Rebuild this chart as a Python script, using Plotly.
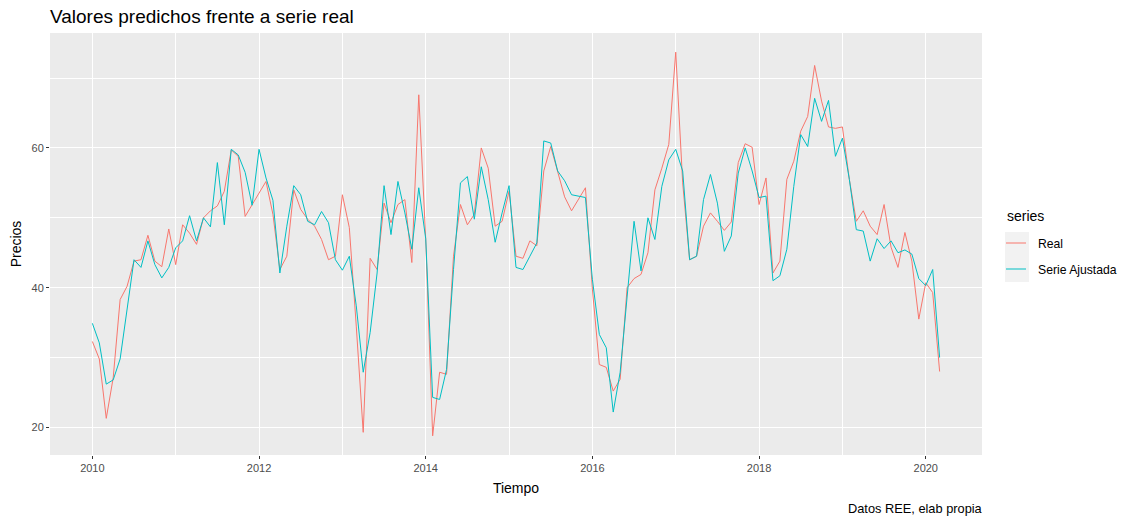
import pandas as pd
import plotly.graph_objects as go

# Serie mensual de precios (enero 2010 - marzo 2020)
fechas = pd.date_range("2010-01-01", periods=123, freq="MS")
tiempo = [f.year + (f.month - 1) / 12 for f in fechas]

real = [
    32.3, 29.8, 21.3, 27.1, 38.3, 40.2, 43.8, 44.0, 47.5, 43.8, 43.0, 48.4,
    43.3, 49.0, 47.8, 46.2, 50.0, 51.0, 51.7, 53.8, 59.7, 58.8, 50.2, 51.8,
    53.6, 55.2, 50.5, 42.6, 44.5, 54.0, 51.2, 49.8, 48.8, 46.9, 44.0, 44.5,
    53.3, 48.6, 34.5, 19.3, 44.2, 42.6, 52.1, 49.3, 51.9, 52.6, 43.6, 67.6,
    46.9, 18.8, 27.9, 27.6, 44.5, 51.9, 49.0, 50.5, 60.0, 57.1, 48.8, 49.5,
    53.8, 44.5, 44.2, 46.7, 46.0, 56.7, 60.2, 56.7, 53.0, 51.0, 52.6, 54.3,
    39.8, 29.0, 28.6, 25.2, 26.9, 40.0, 41.3, 41.9, 45.0, 54.0, 57.1, 60.5,
    73.7, 55.0, 44.0, 44.5, 48.8, 50.7, 49.5, 48.2, 49.4, 57.9, 60.6, 60.1,
    51.9, 55.7, 42.1, 43.8, 55.5, 58.1, 62.4, 64.5, 71.8, 66.7, 63.0, 62.8,
    63.0, 55.5, 49.5, 51.0, 48.8, 47.6, 51.9, 45.8, 42.9, 47.9, 43.8, 35.5,
    40.7, 39.3, 28.0,
]

ajustada = [
    34.9, 32.1, 26.2, 26.8, 29.8, 36.7, 44.0, 42.9, 46.7, 43.3, 41.4, 42.9,
    45.7, 46.7, 50.3, 46.7, 50.0, 48.7, 57.9, 49.0, 59.8, 59.0, 56.5, 51.8,
    59.8, 55.7, 52.5, 42.1, 48.8, 54.6, 53.3, 49.5, 49.0, 50.9, 49.3, 44.0,
    42.5, 44.5, 37.4, 27.9, 33.6, 42.1, 54.6, 47.6, 55.2, 50.7, 45.5, 54.3,
    47.0, 24.3, 24.0, 28.3, 42.6, 55.0, 55.9, 49.8, 57.3, 52.6, 46.5, 50.7,
    54.6, 42.9, 42.6, 44.5, 46.4, 61.0, 60.7, 56.7, 55.3, 53.3, 53.1, 52.9,
    41.2, 33.3, 31.4, 22.2, 27.9, 39.3, 49.5, 42.4, 50.0, 46.9, 54.5, 58.3,
    59.8, 56.7, 44.0, 44.5, 52.6, 56.2, 52.1, 45.2, 47.4, 56.4, 60.0, 56.7,
    52.9, 53.1, 41.0, 41.7, 45.5, 54.5, 61.9, 60.2, 67.1, 63.8, 66.8, 58.8,
    61.4, 55.5, 48.3, 48.1, 43.8, 47.0, 45.6, 46.7, 45.0, 45.4, 44.8, 41.3,
    40.3, 42.6, 30.0,
]

series = ["Real", "Serie Ajustada"]
colores = ["#F8766D", "#00BFC4"]
x_ticks = [2010, 2012, 2014, 2016, 2018, 2020]
y_ticks = [20, 40, 60]

FONT = "Liberation Sans, Arial, sans-serif"
GRIS_TEXTO = "#4D4D4D"

fig = go.Figure()
for nombre, valores, color in zip(series, [real, ajustada], colores):
    fig.add_trace(go.Scatter(
        x=tiempo, y=valores, mode="lines", name=nombre,
        line=dict(color=color, width=1), showlegend=False,
    ))

# Rangos con la expansión del 5 % típica de ggplot
x_span = max(tiempo) - min(tiempo)
y_min = min(real + ajustada)
y_max = max(real + ajustada)
y_span = y_max - y_min

fig.update_layout(
    width=1128, height=518,
    margin=dict(l=50, r=146, t=33, b=63),
    paper_bgcolor="white",
    plot_bgcolor="#EBEBEB",
    font=dict(family=FONT, color="black"),
    title=dict(text="Valores predichos frente a serie real", x=50 / 1128, xanchor="left",
               y=1 - 16 / 518, yanchor="middle", font=dict(size=19, color="black")),
    xaxis=dict(
        range=[min(tiempo) - 0.05 * x_span, max(tiempo) + 0.05 * x_span],
        tickvals=x_ticks, ticktext=[str(t) for t in x_ticks],
        showgrid=True, gridcolor="white", gridwidth=1.2,
        zeroline=False, showline=False,
        ticks="outside", ticklen=3, tickcolor="#333333", tickwidth=1,
        tickfont=dict(size=11, color=GRIS_TEXTO),
        minor=dict(tickvals=[2011, 2013, 2015, 2017, 2019], showgrid=True,
                   gridcolor="white", gridwidth=0.6, ticks=""),
        title=dict(text="Tiempo", font=dict(size=14, color="black"), standoff=9),
    ),
    yaxis=dict(
        range=[y_min - 0.05 * y_span, y_max + 0.05 * y_span],
        tickvals=y_ticks, ticktext=[str(t) for t in y_ticks],
        showgrid=True, gridcolor="white", gridwidth=1.2,
        zeroline=False, showline=False,
        ticks="outside", ticklen=3, tickcolor="#333333", tickwidth=1,
        tickfont=dict(size=11, color=GRIS_TEXTO),
        minor=dict(tickvals=[30, 50, 70], showgrid=True,
                   gridcolor="white", gridwidth=0.6, ticks=""),
        title=dict(text="Precios", font=dict(size=14, color="black"), standoff=6),
    ),
)

# Leyenda al estilo ggplot
def px_x(px):
    return (px - 50) / 932


def px_y(py):
    return (455 - py) / 422


fig.add_annotation(text="series", xref="paper", yref="paper", x=px_x(1005), y=px_y(216),
                   xanchor="left", yanchor="middle", showarrow=False,
                   font=dict(size=14, color="black"))
fig.add_shape(type="rect", xref="paper", yref="paper",
              x0=px_x(1005), x1=px_x(1029), y0=px_y(232), y1=px_y(282),
              fillcolor="#F2F2F2", line=dict(width=0), layer="below")
for k, (nombre, color) in enumerate(zip(series, colores)):
    yc = 243 + 26 * k
    fig.add_shape(type="line", xref="paper", yref="paper",
                  x0=px_x(1006), x1=px_x(1026), y0=px_y(yc), y1=px_y(yc),
                  line=dict(color=color, width=1))
    fig.add_annotation(text=nombre, xref="paper", yref="paper", x=px_x(1036), y=px_y(yc + 1),
                       xanchor="left", yanchor="middle", showarrow=False,
                       font=dict(size=12.2, color="black"))

fig.add_annotation(text="Datos REE, elab propia", xref="paper", yref="paper",
                   x=1.0, y=px_y(509), xanchor="right", yanchor="middle", showarrow=False,
                   xshift=3, font=dict(size=12.8, color="black"))

fig.write_html("out.html")
